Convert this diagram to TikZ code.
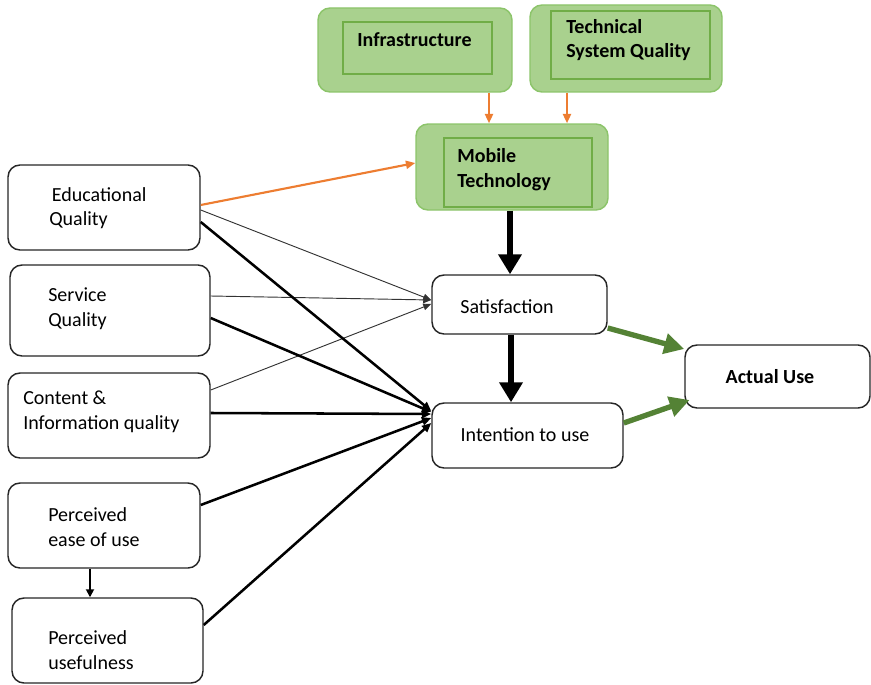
\documentclass[tikz,border=0pt]{standalone}
\usepackage{fontspec}
\setmainfont{Carlito}
\usetikzlibrary{arrows.meta,fit}
\definecolor{gfill}{RGB}{169,209,142}
\definecolor{gedge}{RGB}{140,196,106}
\definecolor{ginner}{RGB}{112,173,71}
\definecolor{orangeln}{RGB}{237,125,49}
\definecolor{greenln}{RGB}{84,130,53}
\tikzset{
  box/.style={draw=black!85, line width=1.1pt, rounded corners=9pt, fill=white, inner sep=0pt},
  gbox/.style={draw=gedge, line width=1.1pt, rounded corners=9pt, fill=gfill, inner sep=0pt},
  ginbox/.style={draw=ginner, line width=0.8pt, inner sep=0pt},
  txt/.style={font=\fontsize{15}{18.5}\selectfont, align=left, inner sep=0pt},
  btxt/.style={txt, font=\fontsize{15}{18.5}\selectfont\bfseries},
  thin/.style={draw=black!80, line width=0.7pt, -{Triangle[length=6pt,width=5pt]}},
  thick/.style={draw=black, line width=1.9pt, -{Triangle[length=7pt,width=6pt]}},
  orng/.style={draw=orangeln, line width=1.6pt, -{Triangle[length=7pt,width=6pt]}},
  fat/.style={draw=black, line width=5pt, -{Triangle[length=15pt,width=17pt]}},
  grn/.style={draw=greenln, line width=4pt, -{Triangle[length=15pt,width=15pt]}},
}
\begin{document}
\begin{tikzpicture}[x=0.75pt,y=-0.75pt]
\useasboundingbox (0,0) rectangle (871,685);

% green boxes at the top
\node[gbox, fit={(318,8) (512,92)}] (infra) {};
\node[ginbox, fit={(343,22) (492,74)}] (infrain) {};
\node[btxt, anchor=west] (infrat) at (357,40) {Infrastructure};

\node[gbox, fit={(530,5) (722,92)}] (tsq) {};
\node[ginbox, fit={(551,11) (710,79)}] (tsqin) {};
\node[btxt, anchor=west] (tsqt) at (566,40) {Technical\\System Quality};

\node[gbox, fit={(416,124) (608,210)}] (mob) {};
\node[ginbox, fit={(444,138) (592,207)}] (mobin) {};
\node[btxt, anchor=west] (mobt) at (457,170) {Mobile\\Technology};

% left column
\node[box, fit={(8,165) (200,250)}] (edu) {};
\node[txt, anchor=west] (edut) at (49,208) {\hspace{2pt}Educational\\Quality};

\node[box, fit={(10,265) (210,356)}] (serv) {};
\node[txt, anchor=west] (servt) at (48,309) {Service\\Quality};

\node[box, fit={(8,373) (210,458)}] (cont) {};
\node[txt, anchor=west] (contt) at (23,412) {Content \&\\Information quality};

\node[box, fit={(8,483) (200,568)}] (peou) {};
\node[txt, anchor=west] (peout) at (48,527) {Perceived\\ease of use};

\node[box, fit={(12,598) (203,683)}] (pu) {};
\node[txt, anchor=west] (put) at (48,650) {Perceived\\usefulness};

% middle and right
\node[box, fit={(432,275) (607,334)}] (sat) {};
\node[txt] (satt) at (507,307) {Satisfaction};

\node[box, fit={(432,403) (623,468)}] (int) {};
\node[txt] (intt) at (525,435) {Intention to use};

\node[box, fit={(685,345) (870,408)}] (act) {};
\node[btxt] (actt) at (770,377) {Actual Use};

% orange links to mobile technology
\draw[orng] (infra.south -| 489,0) -- (mob.north -| 489,0);
\draw[orng] (tsq.south -| 567,0) -- (mob.north -| 567,0);
\draw[orng] (edu.east |- 0,205) -- (mob.west |- 0,163);

% links to satisfaction
\draw[thin] (edu.east |- 0,210) -- (sat.west |- 0,300);
\draw[thin] (serv.east |- 0,296) -- (sat.west |- 0,300);
\draw[thin] (cont.east |- 0,390) -- (sat.west |- 0,304);

% links to intention to use
\draw[thick] (edu.east |- 0,222) -- (int.west |- 0,411);
\draw[thick] (serv.east |- 0,318) -- (int.west |- 0,412);
\draw[thick] (cont.east |- 0,413) -- (int.west |- 0,414);
\draw[thick] (peou.east |- 0,505) -- (int.west |- 0,418);
\draw[thick] (pu.east |- 0,625) -- (int.west |- 0,423);

\draw[draw=black, line width=1.3pt, -{Triangle[length=6pt,width=6pt]}] (peou.south -| 90,0) -- (pu.north -| 90,0);

% main path
\draw[fat] (mob.south -| 510,0) -- (sat.north -| 510,0);
\draw[fat] (sat.south -| 511,0) -- (int.north -| 511,0);

% to actual use
\draw[grn] (sat.east |- 0,328) -- (act.west |- 0,349);
\draw[grn] (int.east |- 0,423) -- ([xshift=4pt]act.west |- 0,400);
\end{tikzpicture}
\end{document}
